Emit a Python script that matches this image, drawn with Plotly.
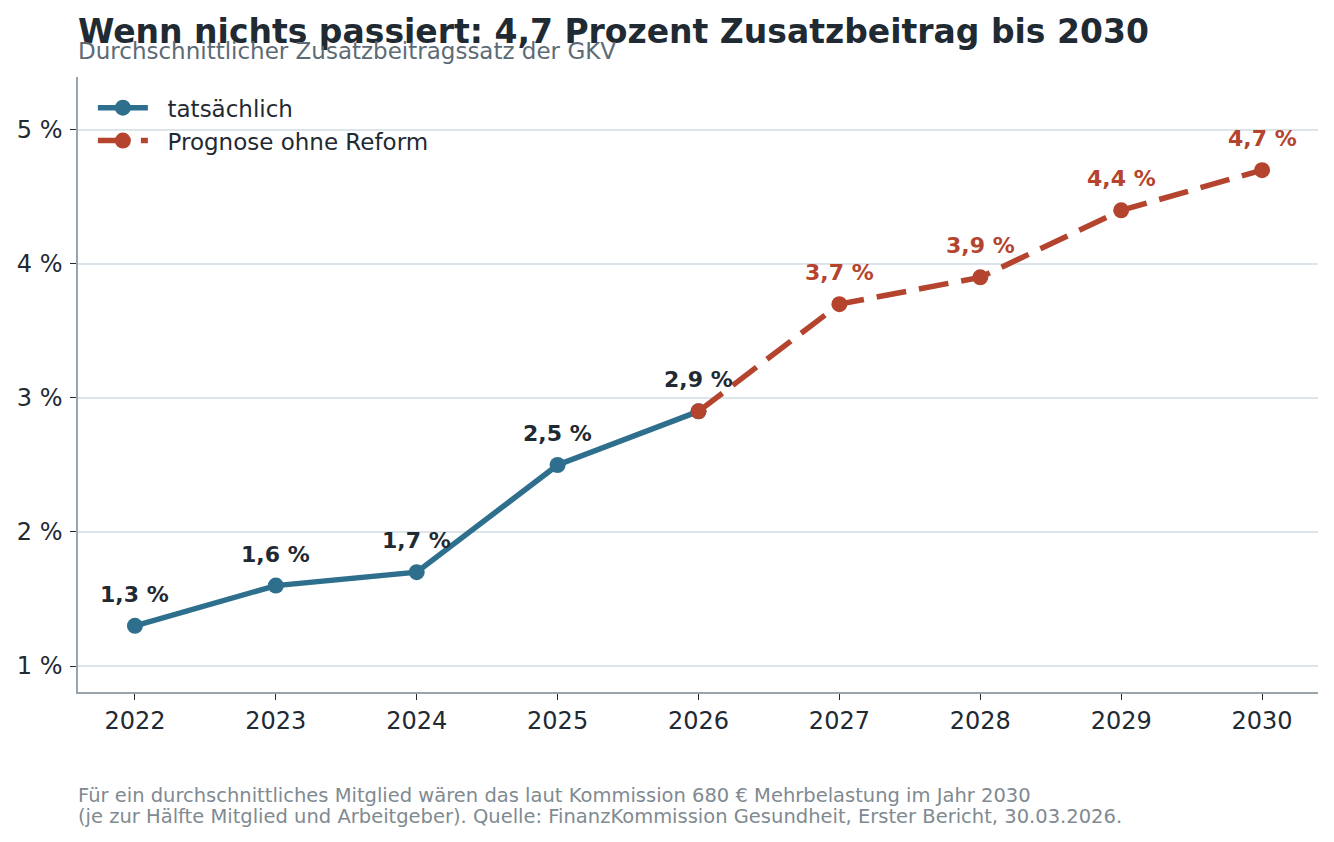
import plotly.graph_objects as go

years_actual = [2022, 2023, 2024, 2025, 2026]
values_actual = [1.3, 1.6, 1.7, 2.5, 2.9]
years_forecast = [2026, 2027, 2028, 2029, 2030]
values_forecast = [2.9, 3.7, 3.9, 4.4, 4.7]
y_ticks = [1, 2, 3, 4, 5]
y_tick_labels = ["1 %", "2 %", "3 %", "4 %", "5 %"]
x_ticks = [2022, 2023, 2024, 2025, 2026, 2027, 2028, 2029, 2030]

BLUE = "#2e6f8e"
RED = "#b5442e"
DARK = "#1f2a33"
FONT = "DejaVu Sans"


def fmt(v):
    return f"{v:.1f}".replace(".", ",") + " %"


fig = go.Figure()
fig.add_trace(go.Scatter(
    x=years_actual, y=values_actual, mode="lines+markers", name="\u00a0\u00a0tatsächlich",
    line=dict(color=BLUE, width=5.5), marker=dict(size=16, color=BLUE),
))
fig.add_trace(go.Scatter(
    x=years_forecast, y=values_forecast, mode="lines+markers", name="\u00a0\u00a0Prognose ohne Reform",
    line=dict(color=RED, width=5.5, dash="30px,13px"), marker=dict(size=16, color=RED),
))

annotations = []
for x, v in zip(years_actual, values_actual):
    annotations.append(dict(x=x, y=v, text=f"<b>{fmt(v)}</b>", showarrow=False,
                            xanchor="center", yanchor="bottom", yshift=17,
                            font=dict(family=FONT, size=22, color=DARK)))
for x, v in zip(years_forecast[1:], values_forecast[1:]):
    annotations.append(dict(x=x, y=v, text=f"<b>{fmt(v)}</b>", showarrow=False,
                            xanchor="center", yanchor="bottom", yshift=17,
                            font=dict(family=FONT, size=22, color=RED)))

paper_texts = [
    (32, "<b>Wenn nichts passiert: 4,7 Prozent Zusatzbeitrag bis 2030</b>", 33, DARK),
    (51, "Durchschnittlicher Zusatzbeitragssatz der GKV", 23, "#5d6b75"),
    (795, "Für ein durchschnittliches Mitglied wären das laut Kommission 680 € Mehrbelastung im Jahr 2030", 19.5, "#7f8a91"),
    (817, "(je zur Hälfte Mitglied und Arbeitgeber). Quelle: FinanzKommission Gesundheit, Erster Bericht, 30.03.2026.", 19.5, "#7f8a91"),
]
pw, ph = 1334 - 78 - 16, 842 - 77 - 150
for ypix, txt, size, col in paper_texts:
    annotations.append(dict(x=0, y=(842 - ypix - 150) / ph, xref="paper", yref="paper", text=txt,
                            showarrow=False, xanchor="left", yanchor="middle", align="left",
                            xshift=-2,
                            font=dict(family=FONT, size=size, color=col)))

fig.update_layout(
    width=1334, height=842,
    margin=dict(l=78, r=16, t=77, b=150),
    plot_bgcolor="white", paper_bgcolor="white",
    font=dict(family=FONT, color=DARK),
    showlegend=True,
    legend=dict(x=0.012, y=0.985, xanchor="left", yanchor="top", bgcolor="rgba(255,255,255,0)",
                font=dict(family=FONT, size=23, color=DARK), itemwidth=50,
                tracegroupgap=0),
    annotations=annotations,
    xaxis=dict(range=[2021.596, 2030.397], tickvals=x_ticks, ticktext=[str(t) for t in x_ticks],
               showgrid=False, zeroline=False, showline=True, linecolor="#9aa5ab", linewidth=1.5,
               ticks="outside", ticklen=6, tickcolor=DARK, tickwidth=1.2,
               tickfont=dict(family=FONT, size=24, color=DARK)),
    yaxis=dict(range=[0.806, 5.395], tickvals=y_ticks, ticktext=y_tick_labels,
               showgrid=True, gridcolor="#dce6ea", gridwidth=1.5, zeroline=False,
               showline=True, linecolor="#9aa5ab", linewidth=1.5,
               ticks="outside", ticklen=6, tickcolor=DARK, tickwidth=1.2,
               ticklabelstandoff=3,
               tickfont=dict(family=FONT, size=24, color=DARK)),
)

fig.write_html("out.html")
